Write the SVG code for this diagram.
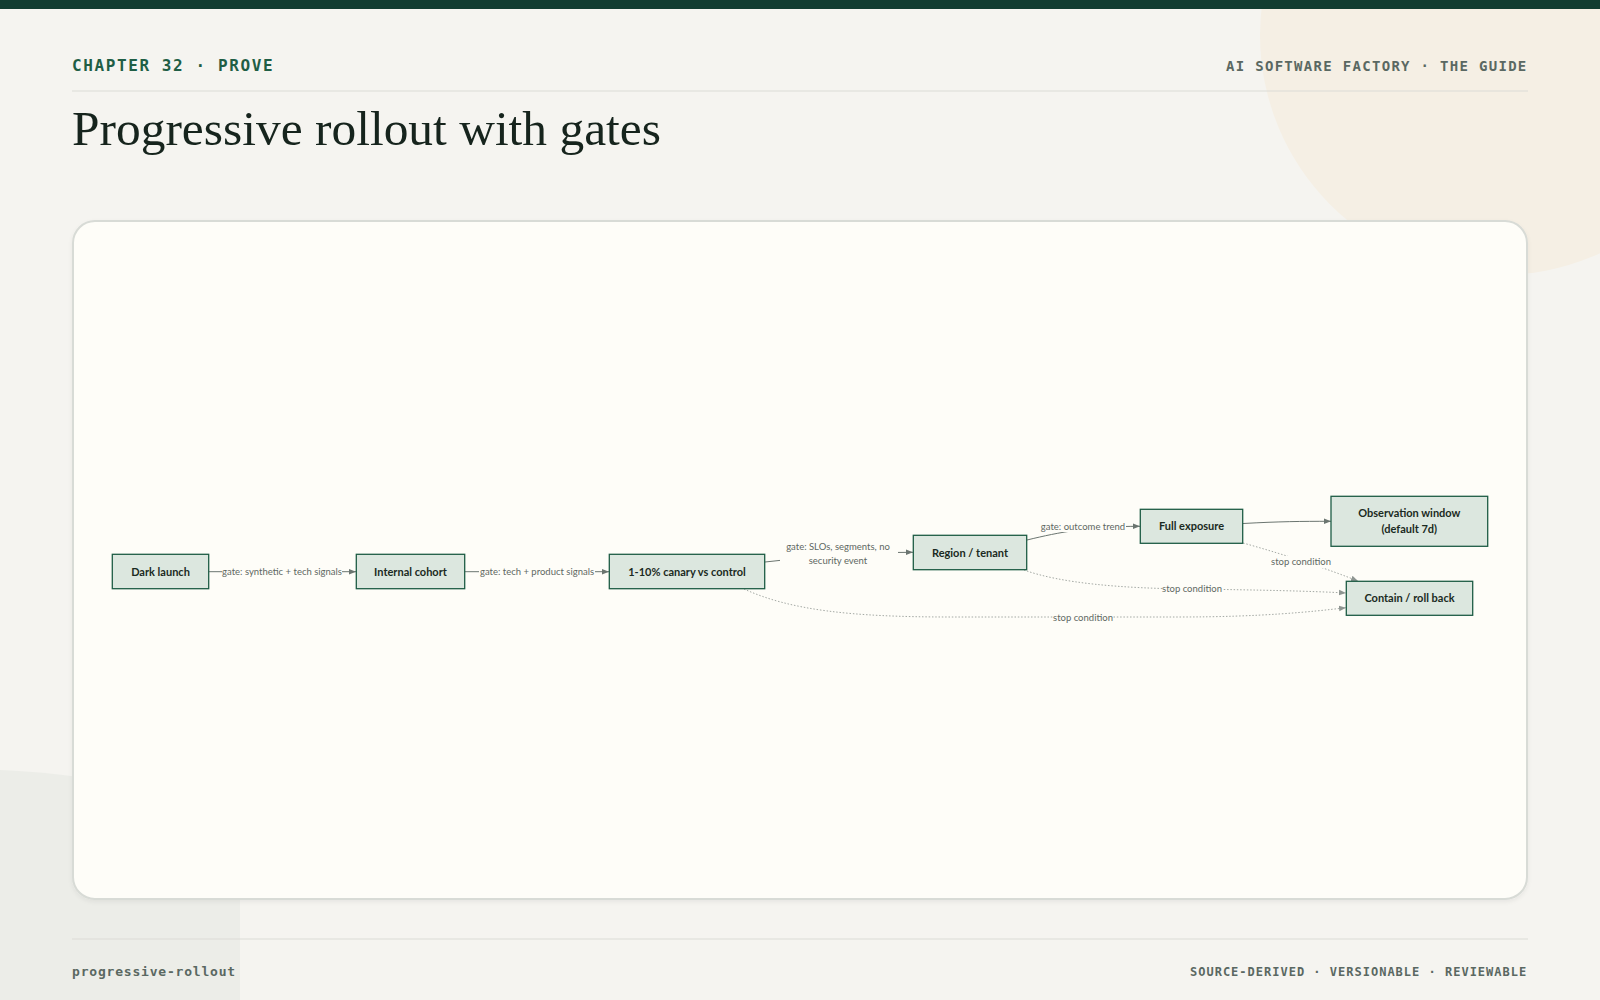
<svg xmlns="http://www.w3.org/2000/svg" width="1600" height="1000" viewBox="0 0 1600 1000">
  <defs>
    <style>
      .mono { font-family: "DejaVu Sans Mono", "Liberation Mono", monospace; font-weight: bold; }
      .node rect { fill: #dce7df; stroke: #1e5c45; stroke-width: 1.3; }
      .node text { font-family: Lato, "Noto Sans", "DejaVu Sans", sans-serif; font-weight: bold; font-size: 11px; fill: #1a2a22; text-anchor: middle; }
      .edge { fill: none; stroke: #6b7570; stroke-width: 1; }
      .dotted { fill: none; stroke: #9a9f9b; stroke-width: 0.9; stroke-dasharray: 1.5 1.8; }
      .elabel { font-family: Lato, "Noto Sans", "DejaVu Sans", sans-serif; font-size: 9.5px; fill: #5f6863; text-anchor: middle; }
      .lbg { fill: #fefdf8; }
    </style>
    <marker id="arr" viewBox="0 0 10 10" refX="10" refY="5" markerWidth="7" markerHeight="7" markerUnits="userSpaceOnUse" orient="auto">
      <path d="M0,1 L10,5 L0,9 z" fill="#6b7570"/>
    </marker>
    <marker id="arrd" viewBox="0 0 10 10" refX="10" refY="5" markerWidth="7" markerHeight="7" markerUnits="userSpaceOnUse" orient="auto">
      <path d="M0,1 L10,5 L0,9 z" fill="#8e9591"/>
    </marker>
    <filter id="shadow" x="-5%" y="-5%" width="110%" height="110%">
      <feDropShadow dx="0" dy="2" stdDeviation="2" flood-color="#000" flood-opacity="0.06"/>
    </filter>
  </defs>

  <!-- background -->
  <rect x="0" y="0" width="1600" height="1000" fill="#f5f4f0"/>
  <circle cx="1500" cy="35" r="240" fill="#f5efe4"/>
  <path d="M0,770 Q240,780 240,900 L240,1000 L0,1000 Z" fill="#ecede8"/>
  <rect x="0" y="0" width="1600" height="9" fill="#123d31"/>

  <!-- header -->
  <text class="mono" x="72" y="71" font-size="16" letter-spacing="1.6" fill="#1f5e45">CHAPTER 32 · PROVE</text>
  <text class="mono" x="1226" y="71" font-size="14" letter-spacing="1.3" fill="#5a6862">AI SOFTWARE FACTORY · THE GUIDE</text>
  <line x1="72" y1="91" x2="1528" y2="91" stroke="#dcdcd6" stroke-width="1.2"/>
  <text x="72" y="145" font-family="'Liberation Serif', 'DejaVu Serif', serif" font-size="49" fill="#16241d" textLength="589" lengthAdjust="spacingAndGlyphs">Progressive rollout with gates</text>

  <!-- card -->
  <rect x="73" y="221" width="1454" height="678" rx="22" ry="22" fill="#fefdf8" stroke="#d8dbd6" stroke-width="2" filter="url(#shadow)"/>

  <!-- connectors -->
  <g id="connectors">
    <path class="edge" d="M208.7,571.7 L356,571.7" marker-end="url(#arr)"/>
    <path class="edge" d="M464.7,571.7 L609,571.7" marker-end="url(#arr)"/>
    <path class="edge" d="M765,562 C820,556 860,552.3 913,552.3" marker-end="url(#arr)"/>
    <path class="edge" d="M1027,540 C1060,532 1090,526.3 1140,526.3" marker-end="url(#arr)"/>
    <path class="edge" d="M1243,523.5 C1280,521.5 1300,521.3 1331,521.3" marker-end="url(#arr)"/>
    <path class="dotted" d="M1243,543 C1290,556 1330,570 1358,581" marker-end="url(#arrd)"/>
    <path class="dotted" d="M1024,570 C1060,583 1120,588.5 1192,589 C1260,590 1310,591 1346,593" marker-end="url(#arrd)"/>
    <path class="dotted" d="M744,589 C790,610 850,617 950,617 L1180,617 C1260,617 1310,612 1346,607.7" marker-end="url(#arrd)"/>

    <rect class="lbg" x="222" y="566" width="120" height="11"/>
    <text class="elabel" x="282" y="575">gate: synthetic + tech signals</text>
    <rect class="lbg" x="479" y="566" width="116" height="11"/>
    <text class="elabel" x="537" y="575">gate: tech + product signals</text>
    <rect class="lbg" x="780" y="539" width="118" height="28"/>
    <text class="elabel" x="838" y="549.5">gate: SLOs, segments, no</text>
    <text class="elabel" x="838" y="563.5">security event</text>
    <rect class="lbg" x="1041" y="521" width="85" height="11"/>
    <text class="elabel" x="1083" y="529.5">gate: outcome trend</text>
    <rect class="lbg" x="1271" y="556" width="60" height="12"/>
    <text class="elabel" x="1301" y="565">stop condition</text>
    <rect class="lbg" x="1162" y="583" width="60" height="12"/>
    <text class="elabel" x="1192" y="592">stop condition</text>
    <rect class="lbg" x="1053" y="611" width="60" height="12"/>
    <text class="elabel" x="1083" y="620.5">stop condition</text>
  </g>

  <!-- nodes -->
  <g id="dark-launch" class="node">
    <rect x="112.3" y="554.3" width="96.4" height="34.4"/>
    <text x="160.5" y="575.5">Dark launch</text>
  </g>
  <g id="internal-cohort" class="node">
    <rect x="356.3" y="554.3" width="108.4" height="34.4"/>
    <text x="410.5" y="575.5">Internal cohort</text>
  </g>
  <g id="canary" class="node">
    <rect x="609.3" y="554.3" width="155.4" height="34.4"/>
    <text x="687" y="575.5">1-10% canary vs control</text>
  </g>
  <g id="region-tenant" class="node">
    <rect x="913.3" y="535.3" width="113.4" height="34.4"/>
    <text x="970" y="556.5">Region / tenant</text>
  </g>
  <g id="full-exposure" class="node">
    <rect x="1140.3" y="509.3" width="102.4" height="34"/>
    <text x="1191.5" y="530.3">Full exposure</text>
  </g>
  <g id="observation-window" class="node">
    <rect x="1331" y="496.3" width="156.7" height="50"/>
    <text x="1409.3" y="516.5">Observation window</text>
    <text x="1409.3" y="532.5">(default 7d)</text>
  </g>
  <g id="contain-rollback" class="node">
    <rect x="1346.3" y="581.3" width="126.4" height="34"/>
    <text x="1409.5" y="602.3">Contain / roll back</text>
  </g>

  <!-- footer -->
  <line x1="72" y1="939" x2="1528" y2="939" stroke="#dcdcd6" stroke-width="1.2"/>
  <text class="mono" x="72" y="976" font-size="13" letter-spacing="0.8" fill="#5a6862">progressive-rollout</text>
  <text class="mono" x="1190" y="976" font-size="12" letter-spacing="1" fill="#5a6862">SOURCE-DERIVED · VERSIONABLE · REVIEWABLE</text>
</svg>
